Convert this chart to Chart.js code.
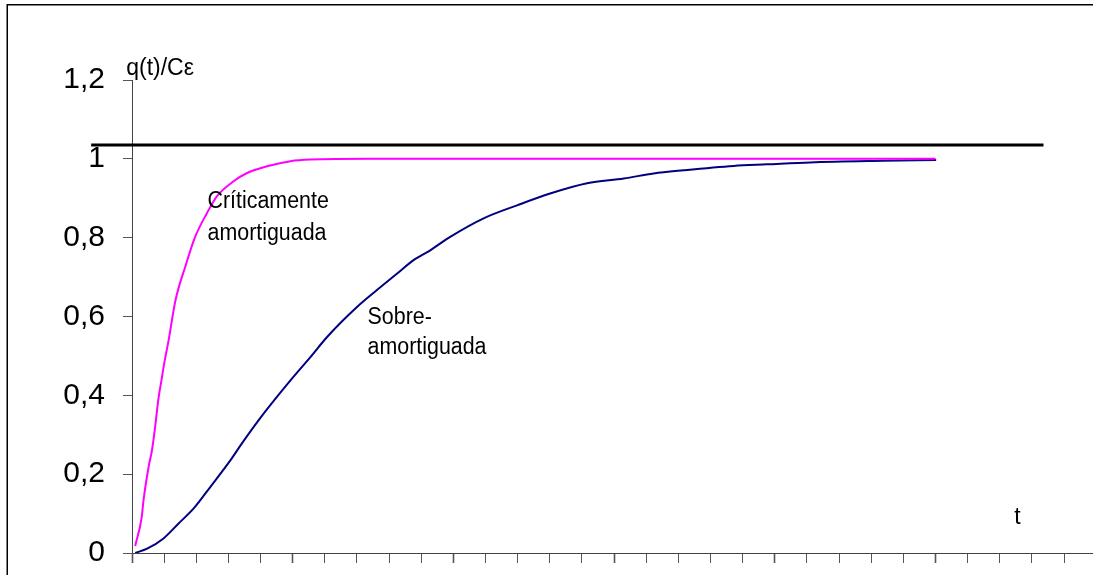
<!DOCTYPE html>
<html>
<head>
<meta charset="utf-8">
<script src="https://cdn.jsdelivr.net/npm/chart.js@4.4.1/dist/chart.umd.min.js"></script>
<style>
  html, body { margin: 0; padding: 0; background: #ffffff; overflow: hidden; }
  #wrap { width: 1093px; height: 575px; position: relative; overflow: hidden; }
  canvas { display: block; }
</style>
</head>
<body>
<div id="wrap"><canvas id="c" width="1093" height="575"></canvas></div>
<script>
// ---- data ----
const critT = [0.10, 0.30, 0.36, 0.52, 0.62, 0.72, 0.82, 0.92, 1.00, 1.14, 1.35, 1.66, 1.97, 2.33, 2.64, 3.16, 3.58, 4.20, 4.93, 5.55, 7.42, 25.0];
const critQ = [0.018, 0.09, 0.135, 0.22, 0.26, 0.32, 0.39, 0.44, 0.48, 0.54, 0.64, 0.727, 0.803, 0.862, 0.905, 0.943, 0.964, 0.981, 0.994, 0.998, 1.0, 1.0];

const overT = [0.10, 0.47, 0.98, 1.45, 1.92, 2.44, 3.06, 3.42, 4.10, 4.93, 5.55, 6.07, 7.00, 7.62, 8.25, 8.76, 9.28, 9.90, 10.94, 11.98, 13.01, 14.16, 15.30, 16.23, 17.16, 18.72, 19.76, 21.10, 23.39, 25.02];
const overQ = [0.0, 0.011, 0.037, 0.075, 0.113, 0.168, 0.235, 0.278, 0.354, 0.438, 0.497, 0.548, 0.624, 0.667, 0.709, 0.743, 0.768, 0.802, 0.849, 0.882, 0.912, 0.938, 0.950, 0.963, 0.971, 0.982, 0.986, 0.991, 0.995, 0.997];

const asymT = [-1.27, 28.36];
const asymQ = [1.035, 1.035];

const xTickValues = Array.from({length: 30}, (_, i) => i);
const yTickValues = [0, 0.2, 0.4, 0.6, 0.8, 1, 1.2];
const yTickLabels = ['0', '0,2', '0,4', '0,6', '0,8', '1', '1,2'];

const labelCrit = ['Críticamente', 'amortiguada'];
const labelOver = ['Sobre-', 'amortiguada'];
const labelY = 'q(t)/Cε';
const labelX = 't';

const toXY = (xs, ys) => xs.map((x, i) => ({x: x, y: ys[i]}));

const FONT = "'Liberation Sans', Arial, sans-serif";

const framePlugin = {
  id: 'frame',
  beforeDraw(chart) {
    const ctx = chart.ctx;
    ctx.save();
    ctx.fillStyle = '#ffffff';
    ctx.fillRect(0, 0, chart.width, chart.height);
    ctx.strokeStyle = '#000000';
    ctx.lineWidth = 1.5;
    ctx.beginPath();
    ctx.moveTo(7.25, chart.height + 10);
    ctx.lineTo(7.25, 4.75);
    ctx.lineTo(chart.width + 10, 4.75);
    ctx.stroke();
    ctx.restore();
  }
};

const textPlugin = {
  id: 'texts',
  afterDatasetsDraw(chart) {
    const ctx = chart.ctx;
    const xs = chart.scales.x, ys = chart.scales.y;
    ctx.save();
    ctx.fillStyle = '#000000';
    ctx.textBaseline = 'alphabetic';
    ctx.textAlign = 'left';
    const cond = (lines, tx, q1, q2) => {
      const px = xs.getPixelForValue(tx);
      const ys1 = ys.getPixelForValue(q1);
      const ys2 = ys.getPixelForValue(q2);
      ctx.save();
      ctx.font = '23px ' + FONT;
      ctx.translate(px, 0);
      ctx.scale(0.93, 1);
      ctx.fillText(lines[0], 0, ys1);
      ctx.fillText(lines[1], 0, ys2);
      ctx.restore();
    };
    cond(labelCrit, 2.35, 0.874, 0.795);
    cond(labelOver, 7.33, 0.582, 0.506);
    ctx.font = '23px ' + FONT;
    ctx.fillText(labelY, xs.getPixelForValue(-0.18), ys.getPixelForValue(1.2125));
    ctx.fillText(labelX, xs.getPixelForValue(27.45), ys.getPixelForValue(0.0746));
    ctx.restore();
  }
};

new Chart(document.getElementById('c'), {
  type: 'line',
  data: {
    datasets: [
      {
        label: 'asymptote',
        data: toXY(asymT, asymQ),
        borderColor: '#000000',
        borderWidth: 3,
        pointRadius: 0,
        clip: false,
        tension: 0
      },
      {
        label: 'Críticamente amortiguada',
        data: toXY(critT, critQ),
        borderColor: '#ff00ff',
        borderWidth: 2,
        pointRadius: 0,
        cubicInterpolationMode: 'monotone'
      },
      {
        label: 'Sobre-amortiguada',
        data: toXY(overT, overQ),
        borderColor: '#000080',
        borderWidth: 2,
        pointRadius: 0,
        cubicInterpolationMode: 'monotone'
      }
    ]
  },
  options: {
    responsive: false,
    animation: false,
    devicePixelRatio: 1,
    layout: { padding: { top: 80, left: 0, right: 0, bottom: 0 } },
    plugins: {
      legend: { display: false },
      tooltip: { enabled: false }
    },
    scales: {
      x: {
        type: 'linear',
        min: 0,
        max: 29.9,
        afterBuildTicks: (s) => { s.ticks = xTickValues.map(v => ({value: v})); },
        afterFit: (s) => { s.height = 22; s.paddingLeft = 0; s.paddingRight = 0; },
        ticks: { display: false },
        grid: {
          drawOnChartArea: false,
          drawTicks: true,
          tickLength: 10,
          color: '#555555',
          tickWidth: (c) => (c.tick && c.tick.value % 5 === 0 ? 1.6 : 1)
        },
        border: { display: true, color: '#444444', width: 1 }
      },
      y: {
        type: 'linear',
        min: 0,
        max: 1.2,
        afterBuildTicks: (s) => { s.ticks = yTickValues.map(v => ({value: v})); },
        afterFit: (s) => { s.width = 132; s.paddingTop = 0; s.paddingBottom = 0; },
        ticks: {
          callback: (v, i) => yTickLabels[i],
          font: { family: FONT, size: 30 },
          color: '#000000',
          padding: 18
        },
        grid: {
          drawOnChartArea: false,
          drawTicks: true,
          tickLength: 9,
          color: '#555555'
        },
        border: { display: true, color: '#444444', width: 1 }
      }
    }
  },
  plugins: [framePlugin, textPlugin]
});
</script>
</body>
</html>
